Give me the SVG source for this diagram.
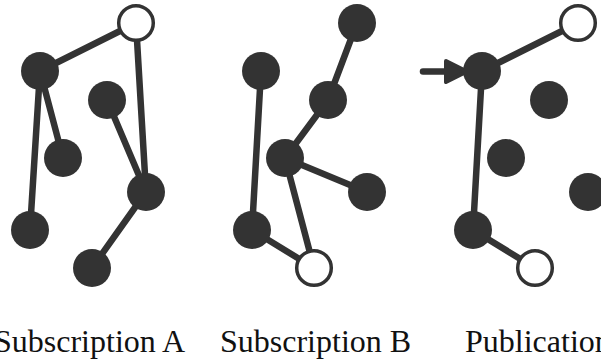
<svg xmlns="http://www.w3.org/2000/svg" width="601" height="361" viewBox="0 0 601 361">
<style>
.e{stroke:#333;stroke-width:6.5;stroke-linecap:round;fill:none}
.n{fill:#333}
.o{fill:#fff;stroke:#333;stroke-width:3.5}
.t{font-family:"Liberation Serif","Times New Roman",serif;font-size:32px;fill:#111}
</style>
<rect width="601" height="361" fill="#fff"/>
<g id="connectors">
<line class="e" x1="40" y1="71" x2="136" y2="23"/>
<line class="e" x1="40" y1="71" x2="30" y2="230"/>
<line class="e" x1="40" y1="71" x2="63" y2="158"/>
<line class="e" x1="136" y1="23" x2="146" y2="192"/>
<line class="e" x1="107" y1="100" x2="146" y2="192"/>
<line class="e" x1="146" y1="192" x2="92" y2="268"/>
<line class="e" x1="357" y1="23" x2="328" y2="100"/>
<line class="e" x1="328" y1="100" x2="285" y2="158"/>
<line class="e" x1="285" y1="158" x2="367" y2="192"/>
<line class="e" x1="285" y1="158" x2="314" y2="268"/>
<line class="e" x1="261" y1="71" x2="252" y2="230"/>
<line class="e" x1="252" y1="230" x2="314" y2="268"/>
<line class="e" x1="482" y1="71" x2="578" y2="23"/>
<line class="e" x1="482" y1="71" x2="473" y2="230"/>
<line class="e" x1="473" y1="230" x2="535" y2="268"/>
<line class="e" x1="423" y1="71.5" x2="450" y2="71.5"/>
<polygon points="446,61 467,71.5 446,82" fill="#333" stroke="#333" stroke-width="4" stroke-linejoin="round"/>
</g>
<g id="a1"><circle class="n" cx="40" cy="71" r="19"/></g>
<g id="a2"><circle class="o" cx="136" cy="23" r="17.3"/></g>
<g id="a3"><circle class="n" cx="107" cy="100" r="19"/></g>
<g id="a4"><circle class="n" cx="63" cy="158" r="19"/></g>
<g id="a5"><circle class="n" cx="146" cy="192" r="19"/></g>
<g id="a6"><circle class="n" cx="30" cy="230" r="19"/></g>
<g id="a7"><circle class="n" cx="92" cy="268" r="19"/></g>
<g id="b1"><circle class="n" cx="357" cy="23" r="19"/></g>
<g id="b2"><circle class="n" cx="261" cy="71" r="19"/></g>
<g id="b3"><circle class="n" cx="328" cy="100" r="19"/></g>
<g id="b4"><circle class="n" cx="285" cy="158" r="19"/></g>
<g id="b5"><circle class="n" cx="367" cy="192" r="19"/></g>
<g id="b6"><circle class="n" cx="252" cy="230" r="19"/></g>
<g id="b7"><circle class="o" cx="314" cy="268" r="17.3"/></g>
<g id="c1"><circle class="o" cx="578" cy="23" r="17.3"/></g>
<g id="c2"><circle class="n" cx="482" cy="71" r="19"/></g>
<g id="c3"><circle class="n" cx="549" cy="100" r="19"/></g>
<g id="c4"><circle class="n" cx="506" cy="158" r="19"/></g>
<g id="c5"><circle class="n" cx="588" cy="192" r="19"/></g>
<g id="c6"><circle class="n" cx="473" cy="230" r="19"/></g>
<g id="c7"><circle class="o" cx="535" cy="268" r="17.3"/></g>
<g id="labels">
<text class="t" x="-6" y="352">Subscription A</text>
<text class="t" x="220" y="352">Subscription B</text>
<text class="t" x="465" y="352">Publication</text>
</g>
</svg>
